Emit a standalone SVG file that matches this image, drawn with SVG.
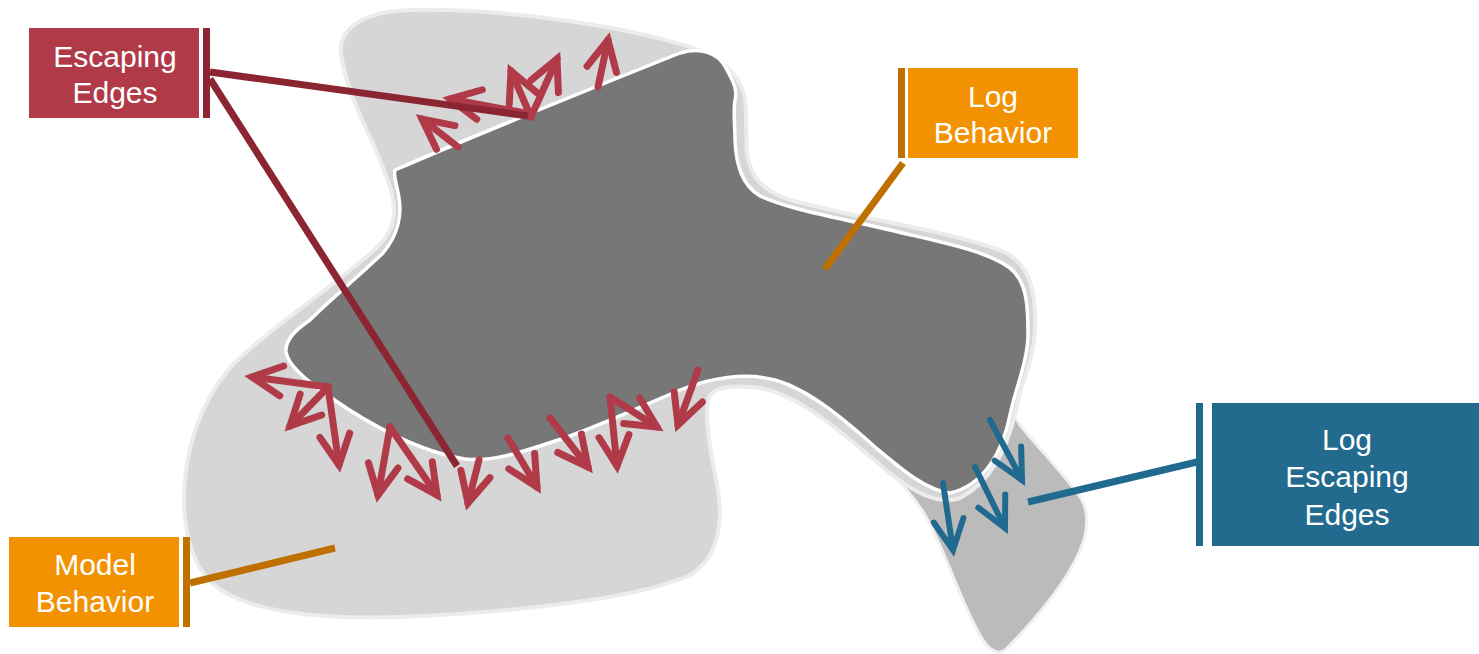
<svg xmlns="http://www.w3.org/2000/svg" width="1479" height="654" viewBox="0 0 1479 654">
<style>
.lbl{font-family:"Liberation Sans",Arial,sans-serif;font-size:30px;fill:#ffffff;text-anchor:middle}
.ra{stroke:#b03a48;stroke-width:7;stroke-linecap:round;fill:none;marker-end:url(#hr)}
.ba{stroke:#216a8f;stroke-width:6;stroke-linecap:round;fill:none;marker-end:url(#hb)}
.con{stroke-width:7;stroke-linecap:butt;fill:none}
</style>
<defs>
<marker id="hr" markerUnits="userSpaceOnUse" markerWidth="40" markerHeight="40" refX="0" refY="0" orient="auto" overflow="visible">
<path d="M -30,-15 L 0,0 L -30,15" fill="none" stroke="#b03a48" stroke-width="7" stroke-linecap="round" stroke-linejoin="miter"/>
</marker>
<marker id="hb" markerUnits="userSpaceOnUse" markerWidth="40" markerHeight="40" refX="0" refY="0" orient="auto" overflow="visible">
<path d="M -30,-15 L 0,0 L -30,15" fill="none" stroke="#216a8f" stroke-width="6" stroke-linecap="round" stroke-linejoin="miter"/>
</marker>
</defs>
<rect width="1479" height="654" fill="#ffffff"/>
<g id="log-escaping-region">
<path d="M 860,445 C 880,460 910,490 925,515 C 945,550 960,600 980,635 C 988,650 998,656 1005,650 C 1030,625 1055,595 1070,570 C 1085,545 1092,520 1082,500 C 1065,475 1040,450 1020,425 L 1005,400 L 900,430 Z" fill="#bbbbbb" stroke="#f0f0f0" stroke-width="3"/>
</g>
<g id="model-behavior-region">
<path d="M 342,60 C 335,30 360,12 410,10 C 500,8 620,25 690,47 C 725,58 742,78 745,100 C 748,130 744,150 750,165 C 755,185 775,198 810,205 C 870,220 950,232 1000,250 C 1030,262 1036,290 1035,330 C 1034,360 1022,380 1017,405 C 1010,440 995,480 960,498 C 940,505 915,495 880,465 C 845,435 800,395 760,388 C 735,385 712,385 708,400 C 704,420 712,460 718,490 C 724,530 715,560 690,575 C 640,598 520,612 400,617 C 300,620 240,608 212,583 C 192,565 184,530 184,500 C 184,450 200,405 228,370 C 250,345 300,310 340,278 C 365,258 385,245 392,225 C 398,205 390,185 380,160 C 368,130 350,100 342,60 Z" fill="#d6d6d6" stroke="#ececec" stroke-width="4"/>
</g>
<g id="log-behavior-region">
<path d="M 395,170 C 480,133 600,85 680,53 C 700,47 718,52 726,68 C 732,80 738,88 735,100 C 733,112 735,125 735,140 C 736,165 742,185 760,196 C 790,210 840,218 890,230 C 940,242 985,250 1010,268 C 1028,282 1028,310 1028,335 C 1028,360 1015,390 1010,415 C 1003,450 985,485 950,493 C 925,490 900,468 875,447 C 845,420 810,390 775,380 C 745,372 710,378 680,390 C 640,407 590,430 555,441 C 520,453 490,462 465,459 C 420,452 370,425 330,397 C 305,380 288,365 286,352 C 285,340 295,330 310,320 C 330,300 360,275 383,253 C 398,235 402,215 399,198 C 397,185 393,175 395,170 Z" fill="#777777" stroke="#ffffff" stroke-width="3.5"/>
</g>
<g id="escaping-arrows">
<line class="ra" x1="458" y1="147" x2="422" y2="119"/>
<line class="ra" x1="525" y1="113" x2="450" y2="99"/>
<line class="ra" x1="531" y1="117" x2="511" y2="71"/>
<line class="ra" x1="531" y1="117" x2="557" y2="59"/>
<line class="ra" x1="598" y1="87" x2="608" y2="40"/>
<line class="ra" x1="328" y1="387" x2="252" y2="377"/>
<line class="ra" x1="328" y1="387" x2="290" y2="426"/>
<line class="ra" x1="328" y1="387" x2="339" y2="465"/>
<line class="ra" x1="390" y1="427" x2="378" y2="495"/>
<line class="ra" x1="390" y1="427" x2="437" y2="495"/>
<line class="ra" x1="479" y1="460" x2="468" y2="503"/>
<line class="ra" x1="508" y1="438" x2="537" y2="487"/>
<line class="ra" x1="550" y1="418" x2="588" y2="467"/>
<line class="ra" x1="610" y1="397" x2="617" y2="466"/>
<line class="ra" x1="610" y1="397" x2="657" y2="427"/>
<line class="ra" x1="698" y1="370" x2="678" y2="425"/>
</g>
<g id="log-escaping-arrows">
<line class="ba" x1="990" y1="420" x2="1022" y2="480"/>
<line class="ba" x1="975" y1="467" x2="1005" y2="528"/>
<line class="ba" x1="943" y1="483" x2="953" y2="550"/>
</g>
<g id="connectors">
<line class="con" stroke="#8b2531" x1="210" y1="72" x2="528" y2="116"/>
<line class="con" stroke="#8b2531" stroke-width="6" x1="210" y1="79" x2="457" y2="466"/>
<line class="con" stroke="#c07000" x1="903" y1="163" x2="825" y2="269"/>
<line class="con" stroke="#c07000" x1="190" y1="583" x2="335" y2="548"/>
<line class="con" stroke="#216a8f" x1="1197" y1="462" x2="1028" y2="502"/>
</g>
<g id="escaping-edges">
<rect x="29" y="28" width="170" height="90" fill="#b03a48"/>
<rect x="203" y="28" width="7" height="90" fill="#8b2531"/>
<text class="lbl" x="115" y="67">Escaping</text>
<text class="lbl" x="115" y="103">Edges</text>
</g>
<g id="log-behavior">
<rect x="908" y="68" width="170" height="90" fill="#f39200"/>
<rect x="898" y="68" width="7" height="90" fill="#c07000"/>
<text class="lbl" x="993" y="107">Log</text>
<text class="lbl" x="993" y="143">Behavior</text>
</g>
<g id="model-behavior">
<rect x="9" y="537" width="170" height="90" fill="#f39200"/>
<rect x="183" y="537" width="7" height="90" fill="#c07000"/>
<text class="lbl" x="95" y="575">Model</text>
<text class="lbl" x="95" y="612">Behavior</text>
</g>
<g id="log-escaping-edges">
<rect x="1212" y="403" width="267" height="143" fill="#226b8f"/>
<rect x="1196" y="403" width="7" height="143" fill="#216a8f"/>
<text class="lbl" x="1347" y="450">Log</text>
<text class="lbl" x="1347" y="487">Escaping</text>
<text class="lbl" x="1347" y="525">Edges</text>
</g>
</svg>
